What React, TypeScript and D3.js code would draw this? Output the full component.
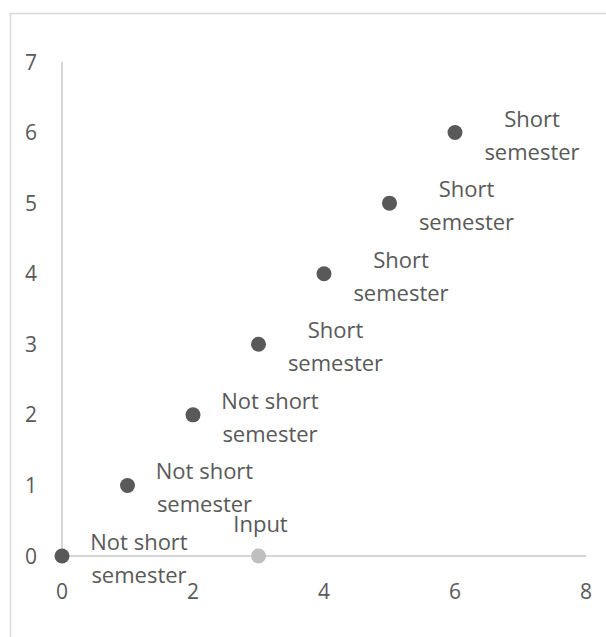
import React from 'react';
import * as d3 from 'd3';

const xValues = [0, 1, 2, 3, 4, 5, 6];
const yValues = [0, 1, 2, 3, 4, 5, 6];
const pointLabels = [
  ['Not short', 'semester'],
  ['Not short', 'semester'],
  ['Not short', 'semester'],
  ['Short', 'semester'],
  ['Short', 'semester'],
  ['Short', 'semester'],
  ['Short', 'semester'],
];
const inputX = [3];
const inputY = [0];
const inputLabel = ['Input'];
const xTicks = [0, 2, 4, 6, 8];
const yTicks = [0, 1, 2, 3, 4, 5, 6, 7];

const font = "'Open Sans', 'Noto Sans', sans-serif";
const textColor = '#595959';

export default function App() {
  const width = 606;
  const height = 637;
  const x = d3.scaleLinear().domain([0, 8]).range([62, 586]);
  const y = d3.scaleLinear().domain([0, 7]).range([556, 62]);

  return (
    <svg width={width} height={height} style={{ position: 'absolute', left: 0, top: 0 }}>
      <rect x={0} y={0} width={width} height={height} fill="#fff" />
      <rect x={10.5} y={13.5} width={620} height={640} fill="none" stroke="#d9d9d9" strokeWidth={1.5} />
      {/* axes */}
      <line x1={x(0)} x2={x(0)} y1={y(7)} y2={y(0)} stroke="#c8c8c8" strokeWidth={1.5} />
      <line x1={x(0)} x2={x(8)} y1={y(0)} y2={y(0)} stroke="#c8c8c8" strokeWidth={1.5} />
      {yTicks.map(t => (
        <text key={'y' + t} x={31} y={y(t)} dy="0.36em" textAnchor="middle"
          fontFamily={font} fontSize={21} fill={textColor}>{t}</text>
      ))}
      {xTicks.map(t => (
        <text key={'x' + t} x={x(t)} y={591} dy="0.36em" textAnchor="middle"
          fontFamily={font} fontSize={21} fill={textColor}>{t}</text>
      ))}
      {/* series */}
      {xValues.map((v, i) => (
        <g key={'p' + i}>
          <circle cx={x(v)} cy={y(yValues[i])} r={7.5} fill="#595959" />
          <text textAnchor="middle" fontFamily={font} fontSize={22} fill={textColor}>
            <tspan x={x(v) + 77} y={y(yValues[i]) - 6}>{pointLabels[i][0]}</tspan>
            <tspan x={x(v) + 77} y={y(yValues[i]) + 27}>{pointLabels[i][1]}</tspan>
          </text>
        </g>
      ))}
      {inputX.map((v, i) => (
        <g key={'in' + i}>
          <circle cx={x(v)} cy={y(inputY[i])} r={7.5} fill="#bfbfbf" />
          <text x={x(v) + 2} y={y(inputY[i]) - 24} textAnchor="middle"
            fontFamily={font} fontSize={22} fill={textColor}>{inputLabel[i]}</text>
        </g>
      ))}
    </svg>
  );
}
